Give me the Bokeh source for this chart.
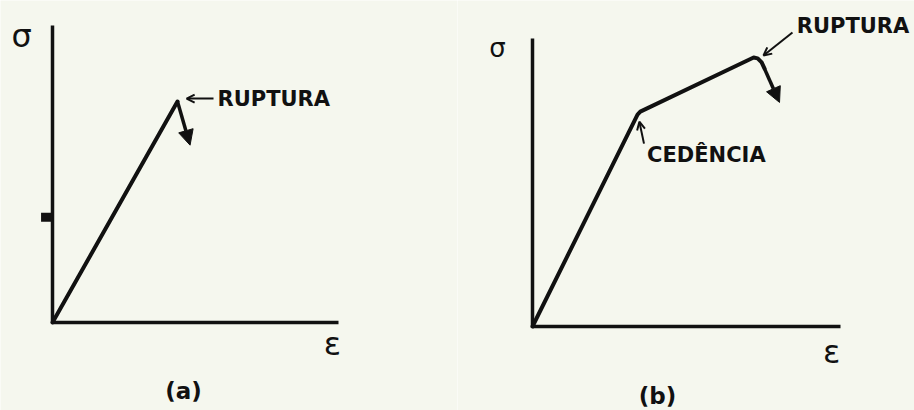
from bokeh.plotting import figure
from bokeh.layouts import row
from bokeh.models import Range1d, Arrow, NormalHead, OpenHead
from bokeh.core.properties import value
from bokeh.embed import file_html
from bokeh.resources import INLINE

# ---- data (strain / stress, as fractions of each axis length) ----
# (a) brittle material: linear up to rupture
strain_a = [0.0, 0.437]
stress_a = [0.0, 0.744]
drop_strain_a = [0.437, 0.481]
drop_stress_a = [0.744, 0.597]

# (b) ductile material: elastic line, yield, hardening, rupture (rounded top)
strain_b = [0.0, 0.341, 0.350, 0.718, 0.731, 0.744, 0.753]
stress_b = [0.0, 0.736, 0.746, 0.934, 0.931, 0.917, 0.896]
drop_strain_b = [0.753, 0.802]
drop_stress_b = [0.896, 0.778]

axis_len = 1.0
mark_stress_a = 0.354

labels_a = {"rupture": "RUPTURA"}
labels_b = {"yield": "CEDÊNCIA", "rupture": "RUPTURA"}

BG = "#f5f7ee"
INK = "#111111"
LABEL_FONT = value("DejaVu Sans")

W, H = 457, 410


def make_panel(ox, oy, xlen, ylen):
    """Figure whose data unit equals one axis length; origin at pixel (ox, oy)."""
    p = figure(width=W, height=H, output_backend="svg", toolbar_location=None,
               x_axis_type=None, y_axis_type=None, min_border=0,
               x_range=Range1d(-ox / xlen, (W - ox) / xlen),
               y_range=Range1d(-(H - oy) / ylen, oy / ylen),
               background_fill_color=BG, border_fill_color=BG,
               outline_line_color=None)
    p.grid.visible = False
    # axes of the diagram
    p.line([0, 0], [0, axis_len], line_width=3.5, line_color=INK)
    p.line([0, axis_len], [0, 0], line_width=3.5, line_color=INK)
    return p


def drop_arrow(p, xs, ys):
    p.add_layout(Arrow(end=NormalHead(size=15, fill_color=INK, line_color=INK, line_width=1),
                       x_start=xs[0], y_start=ys[0], x_end=xs[1], y_end=ys[1],
                       line_width=3.5, line_color=INK))


def pointer(p, x0, y0, x1, y1):
    p.add_layout(Arrow(end=OpenHead(size=8, line_width=2, line_color=INK),
                       x_start=x0, y_start=y0, x_end=x1, y_end=y1,
                       line_width=2, line_color=INK))


# ---------------- panel (a) ----------------
pa = make_panel(52, 322, 286, 297)
pa.line([-0.040, 0.0], [mark_stress_a, mark_stress_a], line_width=9, line_color=INK)
pa.line(strain_a, stress_a, line_width=4, line_color=INK, line_cap="round", line_join="round")
drop_arrow(pa, drop_strain_a, drop_stress_a)
pointer(pa, strain_a[1] + 0.126, stress_a[1] + 0.010, strain_a[1] + 0.032, stress_a[1] + 0.010)
pa.text(x=[strain_a[1] + 0.140], y=[stress_a[1] + 0.010], text=[labels_a["rupture"]],
        text_font=LABEL_FONT, text_font_style="bold", text_font_size="21px",
        text_baseline="middle", text_align="left", text_color=INK)
pa.text(x=[-0.108], y=[0.965], text=["σ"], text_font=LABEL_FONT, text_font_size="32px",
        text_baseline="middle", text_align="center", text_color=INK)
pa.text(x=[0.979], y=[-0.071], text=["ε"], text_font=LABEL_FONT, text_font_size="32px",
        text_baseline="middle", text_align="center", text_color=INK)
pa.text(x=[0.458], y=[-0.229], text=["(a)"], text_font=LABEL_FONT, text_font_style="bold",
        text_font_size="23px", text_baseline="middle", text_align="center", text_color=INK)

# ---------------- panel (b) ----------------
pb = make_panel(75, 326, 308, 288)
pb.line(strain_b, stress_b, line_width=4, line_color=INK, line_cap="round", line_join="round")
drop_arrow(pb, drop_strain_b, drop_stress_b)
# yield pointer and label
pointer(pb, strain_b[2] + 0.012, stress_b[2] - 0.111, strain_b[2] - 0.003, stress_b[2] - 0.035)
pb.text(x=[strain_b[2] + 0.022], y=[stress_b[2] - 0.150], text=[labels_b["yield"]],
        text_font=LABEL_FONT, text_font_style="bold", text_font_size="21px",
        text_baseline="middle", text_align="left", text_color=INK)
# rupture pointer and label
pointer(pb, strain_b[3] + 0.126, stress_b[3] + 0.087, strain_b[3] + 0.032, stress_b[3] + 0.007)
pb.text(x=[strain_b[3] + 0.140], y=[stress_b[3] + 0.111], text=[labels_b["rupture"]],
        text_font=LABEL_FONT, text_font_style="bold", text_font_size="21px",
        text_baseline="middle", text_align="left", text_color=INK)
pb.text(x=[-0.114], y=[0.966], text=["σ"], text_font=LABEL_FONT, text_font_size="26px",
        text_baseline="middle", text_align="center", text_color=INK)
pb.text(x=[0.971], y=[-0.090], text=["ε"], text_font=LABEL_FONT, text_font_size="32px",
        text_baseline="middle", text_align="center", text_color=INK)
pb.text(x=[0.406], y=[-0.243], text=["(b)"], text_font=LABEL_FONT, text_font_style="bold",
        text_font_size="23px", text_baseline="middle", text_align="center", text_color=INK)

layout = row(pa, pb, spacing=0)
open("out.html", "w").write(file_html(layout, INLINE))
